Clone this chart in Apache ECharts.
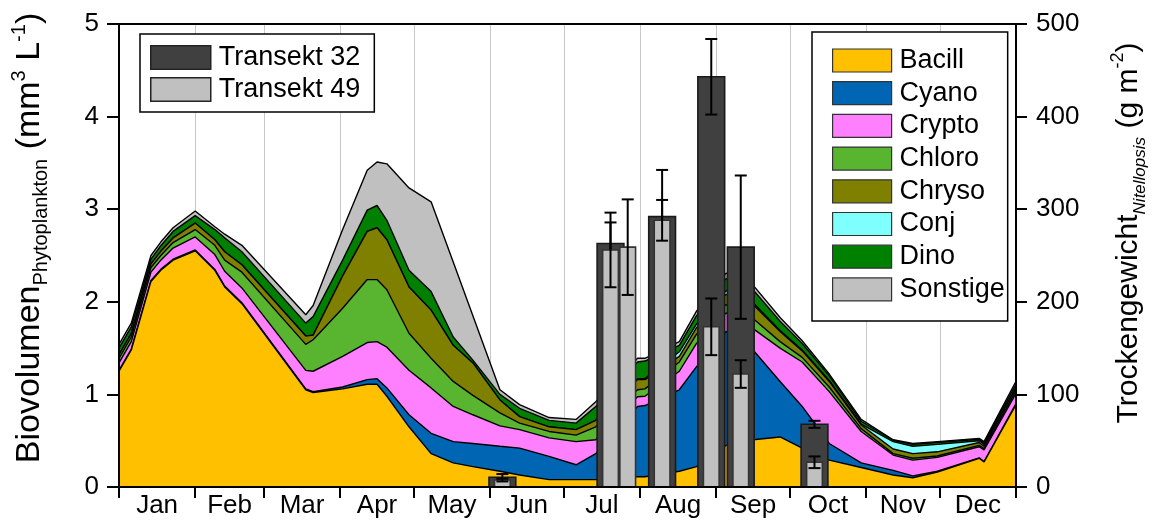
<!DOCTYPE html>
<html>
<head>
<meta charset="utf-8">
<script src="https://cdn.jsdelivr.net/npm/echarts@6.0.0/dist/echarts.min.js"></script>
<style>
  html, body { margin: 0; padding: 0; background: #fff; }
  #chart { width: 1156px; height: 531px; }
</style>
</head>
<body>
<div id="chart"></div>
<script>
// Sampling days (day of year) for the phytoplankton biovolume series
const days = [0, 5, 13, 17, 22, 31, 39, 43, 50, 76, 79, 91, 101, 105, 109, 118, 127, 136, 144, 155, 163,
  175, 186, 194, 211, 214, 228, 235, 247, 258, 269, 278, 289, 302, 315, 323, 333, 350, 352, 365];

// Biovolume per algal group (mm³ L⁻¹), stacked bottom to top in this order
const bacill = [1.25, 1.48, 2.22, 2.34, 2.45, 2.55, 2.34, 2.16, 1.98, 1.05, 1.02, 1.06, 1.11, 1.11, 0.98, 0.65, 0.36, 0.26, 0.22, 0.17, 0.13,
  0.08, 0.08, 0.08, 0.11, 0.11, 0.17, 0.22, 0.45, 0.51, 0.54, 0.42, 0.29, 0.21, 0.13, 0.10, 0.16, 0.31, 0.27, 0.89];
const cyano = [0.01, 0.01, 0.01, 0.01, 0.01, 0.01, 0.01, 0.01, 0.01, 0.01, 0.01, 0.02, 0.05, 0.06, 0.09, 0.13, 0.22, 0.23, 0.25, 0.27, 0.29,
  0.25, 0.16, 0.28, 0.76, 0.77, 0.88, 1.08, 1.23, 0.97, 0.60, 0.45, 0.18, 0.05, 0.05, 0.02, 0.01, 0.005, 0.005, 0.01];
const crypto = [0.08, 0.08, 0.09, 0.10, 0.12, 0.14, 0.16, 0.16, 0.16, 0.20, 0.22, 0.33, 0.40, 0.40, 0.44, 0.48, 0.49, 0.38, 0.31, 0.22, 0.20,
  0.20, 0.25, 0.15, 0.105, 0.10, 0.20, 0.25, 0.20, 0.23, 0.36, 0.48, 0.56, 0.34, 0.165, 0.17, 0.15, 0.12, 0.125, 0.11];
const chloro = [0.05, 0.05, 0.05, 0.05, 0.06, 0.08, 0.10, 0.12, 0.17, 0.28, 0.34, 0.52, 0.68, 0.67, 0.62, 0.40, 0.32, 0.27, 0.21, 0.14, 0.07,
  0.07, 0.07, 0.14, 0.075, 0.08, 0.10, 0.10, 0.09, 0.11, 0.07, 0.05, 0.05, 0.03, 0.015, 0.02, 0.015, 0.015, 0.015, 0.03];
const chryso = [0.04, 0.04, 0.04, 0.045, 0.05, 0.07, 0.06, 0.09, 0.08, 0.09, 0.05, 0.35, 0.52, 0.56, 0.54, 0.50, 0.52, 0.39, 0.35, 0.14, 0.07,
  0.05, 0.06, 0.07, 0.11, 0.10, 0.06, 0.07, 0.11, 0.15, 0.11, 0.07, 0.06, 0.04, 0.05, 0.05, 0.045, 0.03, 0.025, 0.03];
const conj = [0, 0, 0, 0, 0, 0, 0, 0, 0, 0, 0, 0, 0, 0, 0, 0, 0, 0, 0, 0, 0,
  0, 0, 0, 0.01, 0.01, 0.05, 0.04, 0.04, 0.02, 0.01, 0.01, 0.01, 0.01, 0.08, 0.08, 0.08, 0.02, 0.02, 0];
const dino = [0.07, 0.07, 0.05, 0.06, 0.07, 0.08, 0.11, 0.15, 0.14, 0.14, 0.20, 0.17, 0.23, 0.24, 0.21, 0.18, 0.20, 0.09, 0.03, 0.06, 0.09,
  0.07, 0.07, 0.15, 0.18, 0.19, 0.07, 0.09, 0.13, 0.14, 0.10, 0.07, 0.05, 0.03, 0.015, 0.02, 0.02, 0.015, 0.02, 0.04];
const sonstige = [0.04, 0.04, 0.04, 0.04, 0.04, 0.05, 0.03, 0.04, 0.07, 0.09, 0.12, 0.33, 0.43, 0.47, 0.61, 0.89, 0.97, 0.81, 0.48, 0.05, 0.04,
  0.03, 0.04, 0.05, 0.04, 0.03, 0.04, 0.05, 0.06, 0.05, 0.04, 0.03, 0.02, 0.02, 0.005, 0.01, 0.01, 0.01, 0.01, 0.03];

// Nitellopsis dry weight (g m⁻²): [day, mean, error]
const transekt32 = [[156, 10.5, 3.5], [200, 263, 22.7], [221, 292, 50.4], [241, 443, 40.8], [253, 259, 77.4], [283, 67.7, 3.8]];
const transekt49 = [[156, 7.5, 1.5], [200, 256, 40.3], [207, 259, 51.6], [221, 288, 22], [241, 173, 30.6], [253, 122, 14.9], [283, 26.7, 6.3]];

// Month axis
const monthNames = ['Jan', 'Feb', 'Mar', 'Apr', 'May', 'Jun', 'Jul', 'Aug', 'Sep', 'Oct', 'Nov', 'Dec'];
const monthStarts = [0, 31, 59, 90, 120, 151, 181, 212, 243, 273, 304, 334, 365];
const monthMids = monthNames.map((m, i) => (monthStarts[i] + monthStarts[i + 1]) / 2);

const FONT = '"Liberation Sans", Arial, Helvetica, sans-serif';

const groups = [
  { name: 'Bacill', values: bacill, color: '#FFC000' },
  { name: 'Cyano', values: cyano, color: '#0066B3' },
  { name: 'Crypto', values: crypto, color: '#FF80FF' },
  { name: 'Chloro', values: chloro, color: '#59B42F' },
  { name: 'Chryso', values: chryso, color: '#808000' },
  { name: 'Conj', values: conj, color: '#80FFFF' },
  { name: 'Dino', values: dino, color: '#008000' },
  { name: 'Sonstige', values: sonstige, color: '#C0C0C0' }
];

// Running totals: each group is drawn as the area from 0 up to its cumulative top,
// lower groups painted over higher ones so the layers read as a stack.
const cumulative = [];
let running = days.map(() => 0);
groups.forEach(g => {
  running = running.map((r, k) => r + g.values[k]);
  cumulative.push(running.map(v => Math.round(v * 10000) / 10000));
});

// Bar with symmetric error bar, drawn through the cartesian scales
function barRenderer(widthDays, fill, stroke) {
  return function (params, api) {
    const x = api.value(0), v = api.value(1), e = api.value(2);
    const base = api.coord([x, 0]);
    const top = api.coord([x, v]);
    const hi = api.coord([x, v + e]);
    const lo = api.coord([x, Math.max(0, v - e)]);
    const w = api.size([widthDays, 0])[0];
    const cap = 6;
    const err = { stroke: '#000', lineWidth: 2 };
    return {
      type: 'group',
      children: [
        { type: 'rect', shape: { x: base[0] - w / 2, y: top[1], width: w, height: base[1] - top[1] },
          style: { fill: fill, stroke: stroke, lineWidth: 1.6 } },
        { type: 'line', shape: { x1: top[0], y1: hi[1], x2: top[0], y2: lo[1] }, style: err },
        { type: 'line', shape: { x1: top[0] - cap, y1: hi[1], x2: top[0] + cap, y2: hi[1] }, style: err },
        { type: 'line', shape: { x1: top[0] - cap, y1: lo[1], x2: top[0] + cap, y2: lo[1] }, style: err }
      ]
    };
  };
}

const areaSeries = groups.map((g, i) => ({
  name: g.name,
  type: 'line',
  xAxisIndex: 0,
  yAxisIndex: 0,
  data: days.map((d, k) => [d, cumulative[i][k]]),
  symbol: 'none',
  showSymbol: false,
  smooth: false,
  lineStyle: { color: '#000', width: 1.4 },
  areaStyle: { color: g.color, opacity: 1, origin: 'start' },
  itemStyle: { color: g.color },
  z: 2 + (groups.length - i),
  silent: true
}));

const chart = echarts.init(document.getElementById('chart'), null, { renderer: 'canvas' });

chart.setOption({
  animation: false,
  backgroundColor: '#fff',
  textStyle: { fontFamily: FONT },
  grid: {
    left: 119, right: 140, top: 24, bottom: 44,
    show: true, z: 30, borderColor: '#000', borderWidth: 2, backgroundColor: 'rgba(0,0,0,0)'
  },
  legend: [
    {
      orient: 'vertical', left: 140, top: 34, z: 25,
      itemWidth: 60, itemHeight: 23.5, itemGap: 5,
      padding: [10, 14, 9, 10],
      backgroundColor: '#fff', borderColor: '#000', borderWidth: 1.5,
      icon: 'rect', selectedMode: false,
      itemStyle: { borderColor: '#222', borderWidth: 1.5 },
      textStyle: { fontSize: 27, color: '#000', fontFamily: FONT, padding: [0, 0, 0, 3] },
      data: [
        { name: 'Transekt 32', itemStyle: { color: '#404040' } },
        { name: 'Transekt 49', itemStyle: { color: '#C0C0C0' } }
      ]
    },
    {
      orient: 'vertical', left: 812, top: 32, z: 25,
      itemWidth: 59, itemHeight: 23, itemGap: 5.7,
      padding: [15, 3, 18, 20],
      backgroundColor: '#fff', borderColor: '#000', borderWidth: 1.5,
      icon: 'rect', selectedMode: false,
      itemStyle: { borderColor: '#333', borderWidth: 1.2 },
      textStyle: { fontSize: 27, color: '#000', fontFamily: FONT, padding: [0, 0, 0, 3] },
      data: groups.map(g => ({ name: g.name, itemStyle: { color: g.color } }))
    }
  ],
  xAxis: {
    type: 'value', min: 0, max: 365, position: 'bottom',
    axisLine: { show: true, onZero: false, lineStyle: { color: '#000', width: 2 } },
    axisTick: { show: true, inside: false, length: 11, customValues: monthStarts, lineStyle: { color: '#000', width: 2 } },
    axisLabel: {
      customValues: monthMids,
      formatter: v => { const i = monthMids.indexOf(v); return i >= 0 ? monthNames[i] : ''; },
      fontSize: 26, color: '#000', margin: 6, fontFamily: FONT
    },
    splitLine: { show: true, lineStyle: { color: '#c8c8c8', width: 1 } }
  },
  yAxis: [
    {
      type: 'value', min: 0, max: 5, interval: 1, position: 'left',
      axisLine: { show: true, lineStyle: { color: '#000', width: 2 } },
      axisTick: { show: true, inside: false, length: 12, lineStyle: { color: '#000', width: 2 } },
      axisLabel: { fontSize: 26, color: '#000', margin: 20, fontFamily: FONT },
      splitLine: { show: false }
    },
    {
      type: 'value', min: 0, max: 500, interval: 100, position: 'right',
      axisLine: { show: true, lineStyle: { color: '#000', width: 2 } },
      axisTick: { show: true, inside: false, length: 11, lineStyle: { color: '#000', width: 2 } },
      axisLabel: { fontSize: 26, color: '#000', margin: 20, fontFamily: FONT },
      splitLine: { show: false }
    }
  ],
  graphic: [
    {
      type: 'text', x: 30, y: 238, rotation: Math.PI / 2, silent: true,
      style: {
        text: 'Biovolumen{sub|Phytoplankton} (mm{sup|3} L{sup|-1})',
        fontSize: 34, fontFamily: FONT, fill: '#000', lineHeight: 42,
        align: 'center', verticalAlign: 'middle',
        rich: {
          sub: { fontSize: 20, fontFamily: FONT, verticalAlign: 'bottom', lineHeight: 21 },
          sup: { fontSize: 20, fontFamily: FONT, verticalAlign: 'top', lineHeight: 21 }
        }
      }
    },
    {
      type: 'text', x: 1129, y: 233, rotation: Math.PI / 2, silent: true,
      style: {
        text: 'Trockengewicht{sub|Nitellopsis} (g m{sup|-2})',
        fontSize: 30, fontFamily: FONT, fill: '#000', lineHeight: 40,
        align: 'center', verticalAlign: 'middle',
        rich: {
          sub: { fontSize: 17, fontFamily: FONT, fontStyle: 'italic', verticalAlign: 'bottom', lineHeight: 20 },
          sup: { fontSize: 18, fontFamily: FONT, verticalAlign: 'top', lineHeight: 20 }
        }
      }
    }
  ],
  series: areaSeries.concat([
    {
      name: 'Transekt 32', type: 'custom', xAxisIndex: 0, yAxisIndex: 1,
      data: transekt32, encode: { x: 0, y: 1 },
      renderItem: barRenderer(10.9, '#404040', '#1a1a1a'),
      itemStyle: { color: '#404040' }, z: 20, silent: true
    },
    {
      name: 'Transekt 49', type: 'custom', xAxisIndex: 0, yAxisIndex: 1,
      data: transekt49, encode: { x: 0, y: 1 },
      renderItem: barRenderer(6.4, '#C0C0C0', '#333'),
      itemStyle: { color: '#C0C0C0' }, z: 21, silent: true
    }
  ])
});
</script>
</body>
</html>
